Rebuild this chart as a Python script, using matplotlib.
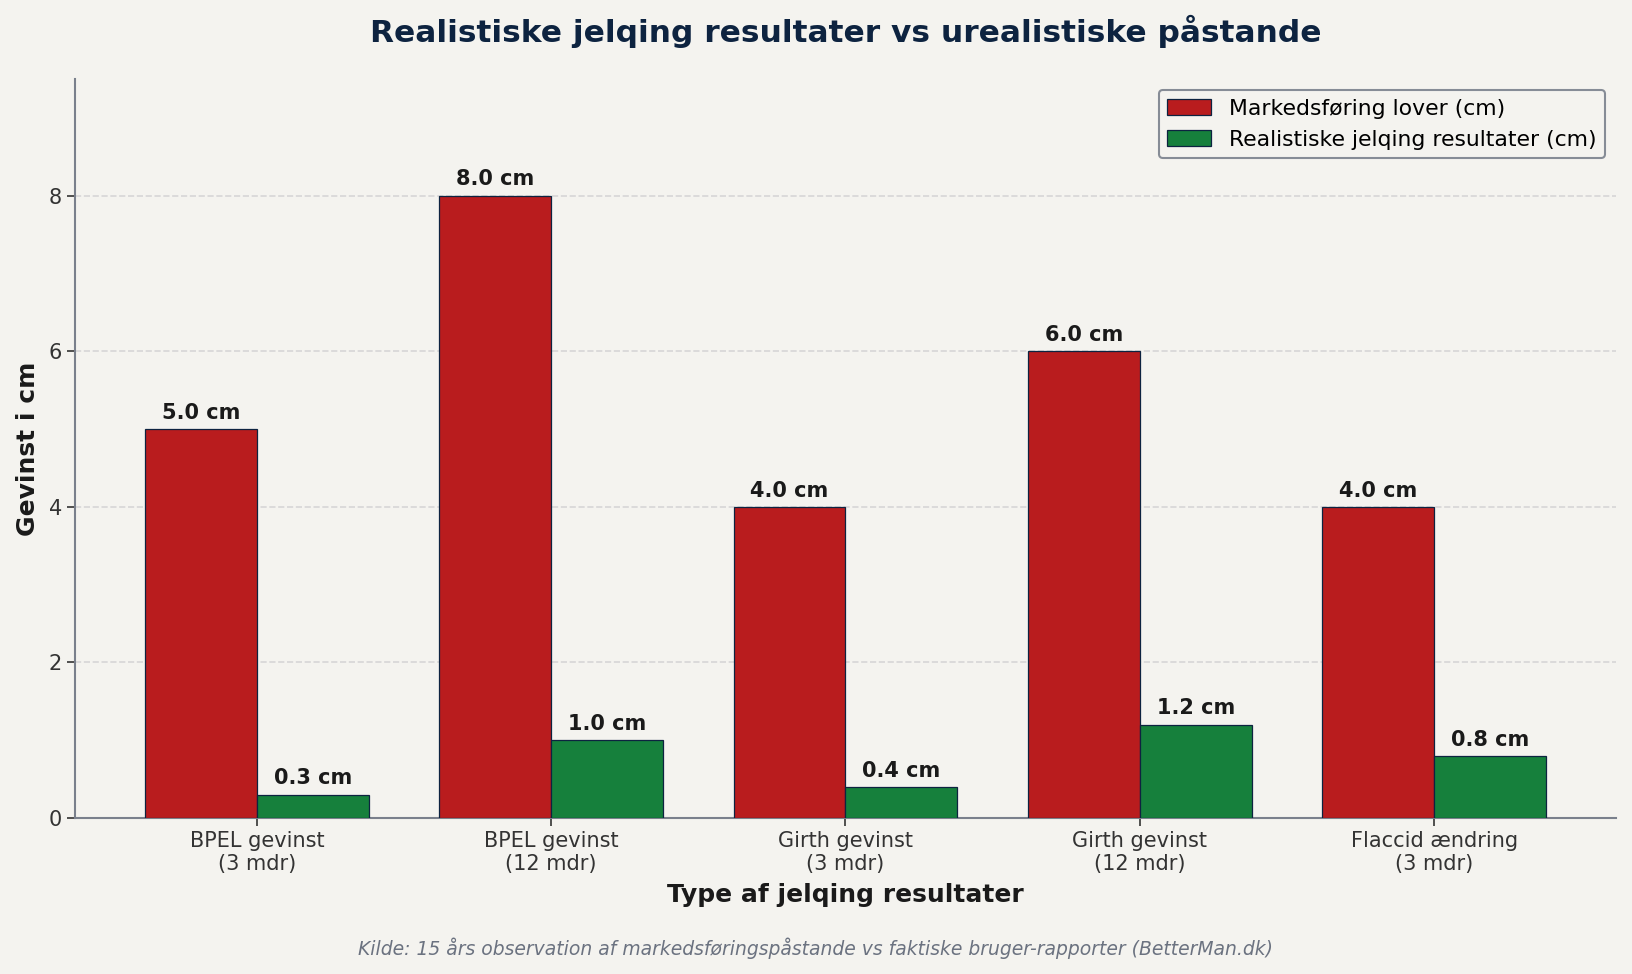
import matplotlib.pyplot as plt
import numpy as np

plt.rcParams['font.family'] = ['DejaVu Sans']

CATEGORIES = ['BPEL gevinst\n(3 mdr)', 'BPEL gevinst\n(12 mdr)', 'Girth gevinst\n(3 mdr)',
              'Girth gevinst\n(12 mdr)', 'Flaccid ændring\n(3 mdr)']
MARKETING = [5.0, 8.0, 4.0, 6.0, 4.0]
REALISTIC = [0.3, 1.0, 0.4, 1.2, 0.8]

BG = '#f4f3ef'
NAVY = '#0d2340'
RED = '#b91c1e'
GREEN = '#16803c'


def main():
    fig = plt.figure(figsize=(16.32, 9.74), dpi=100, facecolor=BG)
    ax = fig.add_axes([75 / 1632, 1 - 818 / 974, (1616 - 75) / 1632, (818 - 79) / 974])
    ax.set_facecolor(BG)

    x = np.arange(len(CATEGORIES))
    w = 0.38
    b1 = ax.bar(x - w / 2, MARKETING, w, color=RED, edgecolor=NAVY, linewidth=0.9,
                label='Markedsføring lover (cm)', zorder=3)
    b2 = ax.bar(x + w / 2, REALISTIC, w, color=GREEN, edgecolor=NAVY, linewidth=0.9,
                label='Realistiske jelqing resultater (cm)', zorder=3)

    for bars, vals in ((b1, MARKETING), (b2, REALISTIC)):
        for bar, v in zip(bars, vals):
            ax.annotate(f'{v:.1f} cm', (bar.get_x() + bar.get_width() / 2, v),
                        xytext=(0, 4.5), textcoords='offset points', ha='center', va='bottom',
                        fontsize=15, fontweight='bold', color='#1a1a1a')

    ax.set_ylim(0, 9.5)
    ax.set_xticks(x)
    ax.set_xticklabels(CATEGORIES, fontsize=15, color='#1a1a1a')
    ax.tick_params(axis='y', labelsize=15, labelcolor='#1a1a1a')
    ax.tick_params(colors='#333333', length=6, width=1.2)
    ax.yaxis.grid(True, linestyle='--', color='#d6d6d6', linewidth=1.2, zorder=0)
    ax.set_axisbelow(True)
    for s in ('top', 'right'):
        ax.spines[s].set_visible(False)
    for s in ('left', 'bottom'):
        ax.spines[s].set_color('#7a808c')
        ax.spines[s].set_linewidth(1.5)

    ax.set_xlabel('Type af jelqing resultater', fontsize=18, fontweight='bold', color='#1a1a1a',
                  labelpad=6)
    ax.set_ylabel('Gevinst i cm', fontsize=18, fontweight='bold', color='#1a1a1a', labelpad=6)

    ax.set_title('Realistiske jelqing resultater vs urealistiske påstande',
                 fontsize=22.5, fontweight='bold', color=NAVY, pad=27)
    fig.text(0.5, 1 - 948 / 974,
             'Kilde: 15 års observation af markedsføringspåstande vs faktiske bruger-rapporter (BetterMan.dk)',
             ha='center', va='center', fontsize=13.5, style='italic', color='#6b7280')

    leg = ax.legend(loc='upper right', fontsize=15.75, frameon=True, facecolor=BG,
                    edgecolor='#6b7280', fancybox=True)
    leg.get_frame().set_linewidth(1.5)

    fig.savefig('out.png', dpi=100, facecolor=BG)


if __name__ == '__main__':
    main()
